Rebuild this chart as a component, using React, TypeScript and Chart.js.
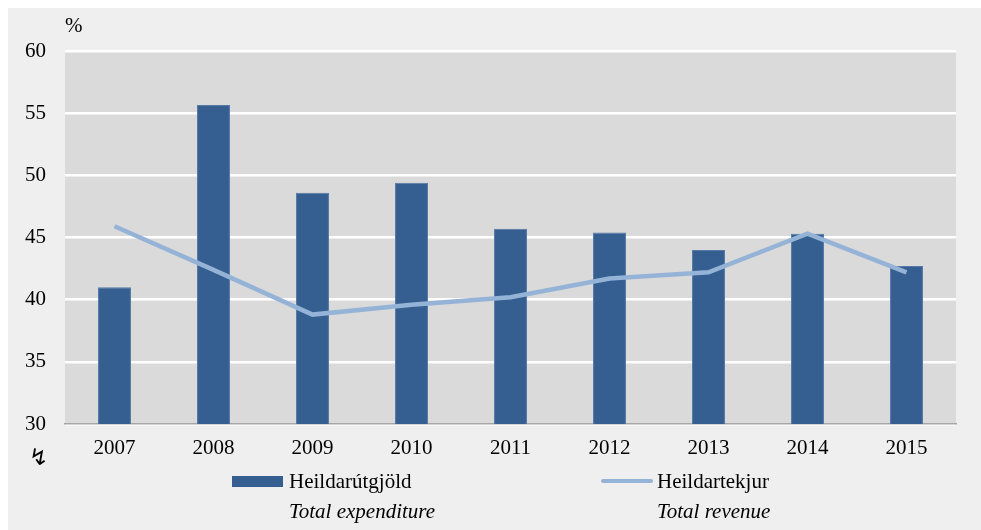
import React, { useEffect, useRef } from "react";
import { Chart, registerables } from "chart.js";

Chart.register(...registerables);

const years = ["2007", "2008", "2009", "2010", "2011", "2012", "2013", "2014", "2015"];
const expenditure = [41.0, 55.65, 48.6, 49.4, 45.7, 45.4, 44.0, 45.3, 42.7];
const revenue = [45.9, 42.4, 38.8, 39.6, 40.2, 41.7, 42.2, 45.3, 42.2];
const yMin = 30;
const yMax = 60;
const yStep = 5;

const FONT = "'Liberation Serif', 'Times New Roman', serif";

const plotBg = {
  id: "plotBg",
  beforeDraw(chart: any) {
    const { ctx, chartArea } = chart;
    if (!chartArea) return;
    ctx.save();
    ctx.fillStyle = "#dadada";
    ctx.fillRect(chartArea.left, chartArea.top, chartArea.right - chartArea.left, chartArea.bottom - chartArea.top);
    ctx.restore();
  },
};

export default function App() {
  const ref = useRef<HTMLCanvasElement | null>(null);

  useEffect(() => {
    if (!ref.current) return;
    const chart = new Chart(ref.current, {
      type: "bar",
      data: {
        labels: years,
        datasets: [
          {
            type: "line",
            label: "Heildartekjur",
            data: revenue,
            borderColor: "#95b3d7",
            backgroundColor: "#95b3d7",
            borderWidth: 4.5,
            pointRadius: 0,
            tension: 0,
            order: 0,
          } as any,
          {
            type: "bar",
            label: "Heildarútgjöld",
            data: expenditure,
            backgroundColor: "#355f91",
            borderColor: "#5479a6",
            borderWidth: 1,
            categoryPercentage: 1,
            barPercentage: 0.333,
            order: 1,
          } as any,
        ],
      },
      options: {
        animation: false,
        responsive: false,
        maintainAspectRatio: false,
        layout: { padding: { top: 43, right: 25, left: 0, bottom: 0 } },
        plugins: { legend: { display: false }, tooltip: { enabled: false } },
        scales: {
          x: {
            grid: { display: false },
            border: { display: true, color: "#a6a6a6", width: 1.5 },
            ticks: { color: "#000", font: { family: FONT, size: 21 }, padding: 4, maxRotation: 0 },
            afterFit(scale: any) {
              scale.height = 106;
            },
          },
          y: {
            min: yMin,
            max: yMax,
            ticks: { stepSize: yStep, color: "#000", font: { family: FONT, size: 21 }, padding: 19 },
            grid: { color: "#ffffff", lineWidth: 2.5, drawTicks: false },
            border: { display: false },
            afterFit(scale: any) {
              scale.width = 57;
            },
          },
        },
      },
      plugins: [plotBg],
    });
    return () => chart.destroy();
  }, []);

  const txt: React.CSSProperties = {
    position: "absolute",
    fontFamily: FONT,
    fontSize: 21,
    color: "#000",
    lineHeight: "30px",
    whiteSpace: "nowrap",
  };

  return (
    <div style={{ position: "absolute", left: 8, top: 8, width: 973, height: 522, background: "#efefef" }}>
      <canvas ref={ref} width={973} height={522} style={{ position: "absolute", left: 0, top: 0 }} />
      <div style={{ ...txt, left: 57, top: 2 }}>%</div>
      <div style={{ ...txt, left: 21, top: 434, fontFamily: "'DejaVu Sans', sans-serif", fontSize: 23 }}>↯</div>
      <div style={{ position: "absolute", left: 224, top: 468, width: 51, height: 11, background: "#355f91" }} />
      <div style={{ ...txt, left: 281, top: 458 }}>
        Heildarútgjöld
        <br />
        <i>Total expenditure</i>
      </div>
      <div style={{ position: "absolute", left: 593, top: 471, width: 52, height: 4, borderRadius: 2, background: "#95b3d7" }} />
      <div style={{ ...txt, left: 649, top: 458 }}>
        Heildartekjur
        <br />
        <i>Total revenue</i>
      </div>
    </div>
  );
}
